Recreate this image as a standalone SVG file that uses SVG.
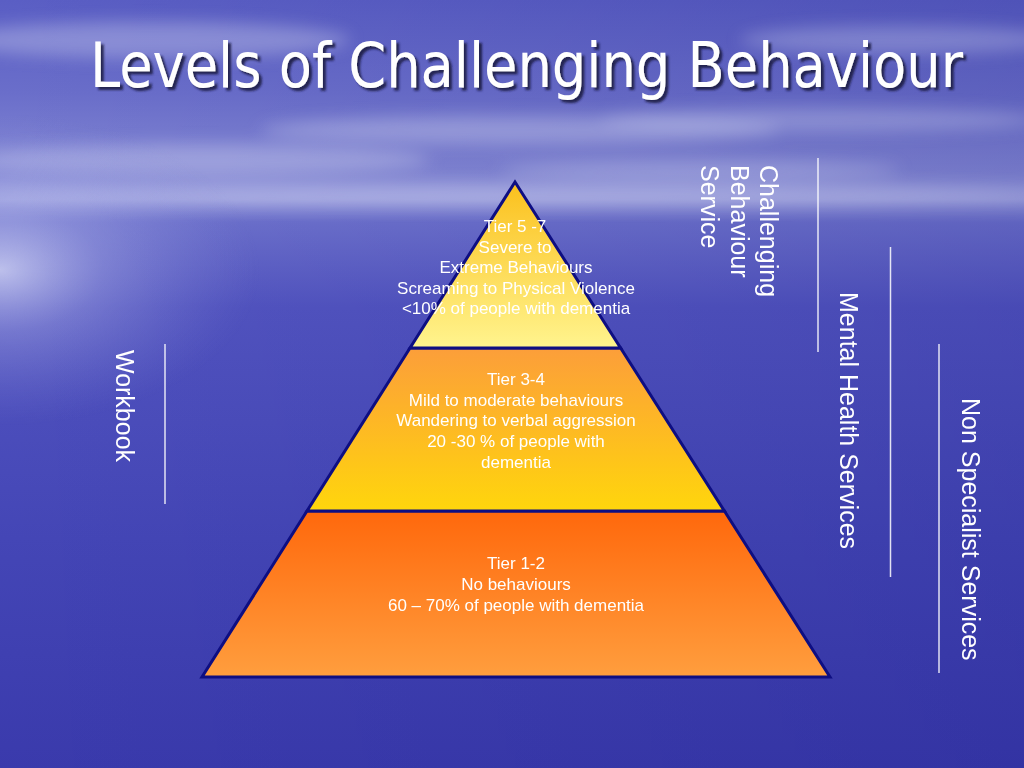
<svg xmlns="http://www.w3.org/2000/svg" width="1024" height="768" viewBox="0 0 1024 768">
  <defs>
    <linearGradient id="bg" x1="0" y1="0" x2="0" y2="1">
      <stop offset="0" stop-color="#5A5EC4"/>
      <stop offset="0.12" stop-color="#6A6ECA"/>
      <stop offset="0.22" stop-color="#8286D4"/>
      <stop offset="0.26" stop-color="#9498DC"/>
      <stop offset="0.29" stop-color="#6C70CC"/>
      <stop offset="0.40" stop-color="#5254C0"/>
      <stop offset="0.70" stop-color="#4446B6"/>
      <stop offset="1" stop-color="#3A3AAC"/>
    </linearGradient>
    <linearGradient id="shadeR" x1="0" y1="0" x2="1" y2="0">
      <stop offset="0" stop-color="#000060" stop-opacity="0"/>
      <stop offset="1" stop-color="#000060" stop-opacity="0.12"/>
    </linearGradient>
    <radialGradient id="glowL" gradientUnits="userSpaceOnUse" cx="0" cy="270" r="260" gradientTransform="translate(0,270) scale(1,0.6) translate(0,-270)">
      <stop offset="0" stop-color="#DDE0F8" stop-opacity="0.75"/>
      <stop offset="0.4" stop-color="#B8BCEC" stop-opacity="0.35"/>
      <stop offset="1" stop-color="#8C90DC" stop-opacity="0"/>
    </radialGradient>
    <filter id="blur" x="-20%" y="-50%" width="140%" height="200%">
      <feGaussianBlur stdDeviation="8"/>
    </filter>
    <filter id="shadow" x="-5%" y="-20%" width="110%" height="150%">
      <feDropShadow dx="3" dy="3" stdDeviation="0.8" flood-color="#14143C" flood-opacity="0.85"/>
    </filter>
    <linearGradient id="gTop" x1="0" y1="0" x2="0" y2="1">
      <stop offset="0" stop-color="#FBC01C"/>
      <stop offset="1" stop-color="#FFF48E"/>
    </linearGradient>
    <linearGradient id="gMid" x1="0" y1="0" x2="0" y2="1">
      <stop offset="0" stop-color="#FC9E3A"/>
      <stop offset="1" stop-color="#FFD60C"/>
    </linearGradient>
    <linearGradient id="gBot" x1="0" y1="0" x2="0" y2="1">
      <stop offset="0" stop-color="#FF680C"/>
      <stop offset="1" stop-color="#FF9E3E"/>
    </linearGradient>
    <style>
      .tier { stroke: #0E0E82; stroke-width: 3; stroke-linejoin: miter; }
      .lbl { font-family: "Liberation Sans", Arial, sans-serif; font-size: 17px; fill: #FFFFFF; text-anchor: middle; }
      .side { font-family: "Liberation Sans", Arial, sans-serif; font-size: 25px; fill: #FFFFFF; }
      .rule { stroke: #FFFFFF; stroke-width: 1.5; stroke-opacity: 0.85; }
      .title { font-family: "DejaVu Sans Condensed", "DejaVu Sans", sans-serif; font-size: 62px; fill: #FFFFFF; }
    </style>
  </defs>

  <!-- background -->
  <g id="background">
    <rect x="0" y="0" width="1024" height="768" fill="url(#bg)"/>
    <rect x="0" y="0" width="1024" height="768" fill="url(#shadeR)"/>
    <g fill="#D8DAF4" filter="url(#blur)">
      <ellipse cx="150" cy="40" rx="200" ry="18" opacity="0.35"/>
      <ellipse cx="520" cy="130" rx="260" ry="14" opacity="0.35"/>
      <ellipse cx="820" cy="120" rx="220" ry="12" opacity="0.3"/>
      <ellipse cx="200" cy="160" rx="230" ry="16" opacity="0.35"/>
      <ellipse cx="900" cy="40" rx="160" ry="14" opacity="0.3"/>
      <ellipse cx="520" cy="195" rx="560" ry="10" opacity="0.4"/>
      <ellipse cx="700" cy="170" rx="200" ry="10" opacity="0.3"/>
    </g>
    <rect x="0" y="0" width="1024" height="768" fill="url(#glowL)"/>
  </g>

  <!-- title -->
  <g id="title">
    <text class="title" x="90" y="87" textLength="873" lengthAdjust="spacingAndGlyphs" filter="url(#shadow)">Levels of Challenging Behaviour</text>
  </g>

  <!-- pyramid tiers -->
  <g id="tier-bottom">
    <polygon class="tier" points="307,511 724.4,511 830,677 202,677" fill="url(#gBot)"/>
    <text class="lbl" x="516" y="569">Tier 1-2</text>
    <text class="lbl" x="516" y="590">No behaviours</text>
    <text class="lbl" x="516" y="611">60 – 70% of people with dementia</text>
  </g>
  <g id="tier-middle">
    <polygon class="tier" points="410,348 620.6,348 724.4,511 307,511" fill="url(#gMid)"/>
    <text class="lbl" x="516" y="385">Tier 3-4</text>
    <text class="lbl" x="516" y="406">Mild to moderate behaviours</text>
    <text class="lbl" x="516" y="426">Wandering to verbal aggression</text>
    <text class="lbl" x="516" y="447">20 -30 % of people with</text>
    <text class="lbl" x="516" y="468">dementia</text>
  </g>
  <g id="tier-top">
    <polygon class="tier" points="515,182 620.6,348 410,348" fill="url(#gTop)"/>
    <text class="lbl" x="515" y="232">Tier 5 -7</text>
    <text class="lbl" x="515" y="253">Severe to</text>
    <text class="lbl" x="516" y="273">Extreme Behaviours</text>
    <text class="lbl" x="516" y="294">Screaming to Physical Violence</text>
    <text class="lbl" x="516" y="314">&lt;10% of people with dementia</text>
  </g>

  <!-- side labels -->
  <g id="label-workbook">
    <text class="side" transform="translate(116,350) rotate(90)">Workbook</text>
  </g>
  <g id="label-challenging">
    <text class="side" transform="translate(760,165) rotate(90)">Challenging</text>
    <text class="side" transform="translate(731,165) rotate(90)">Behaviour</text>
    <text class="side" transform="translate(701,165) rotate(90)">Service</text>
  </g>
  <g id="label-mental">
    <text class="side" transform="translate(840,292) rotate(90)">Mental Health Services</text>
  </g>
  <g id="label-nonspecialist">
    <text class="side" transform="translate(962,398) rotate(90)">Non Specialist Services</text>
  </g>

  <!-- range lines -->
  <g id="connectors">
    <line class="rule" x1="165" y1="344" x2="165" y2="504"/>
    <line class="rule" x1="818" y1="158" x2="818" y2="352"/>
    <line class="rule" x1="890.5" y1="247" x2="890.5" y2="577" stroke-opacity="0.6"/>
    <line class="rule" x1="939" y1="344" x2="939" y2="673"/>
  </g>
</svg>
